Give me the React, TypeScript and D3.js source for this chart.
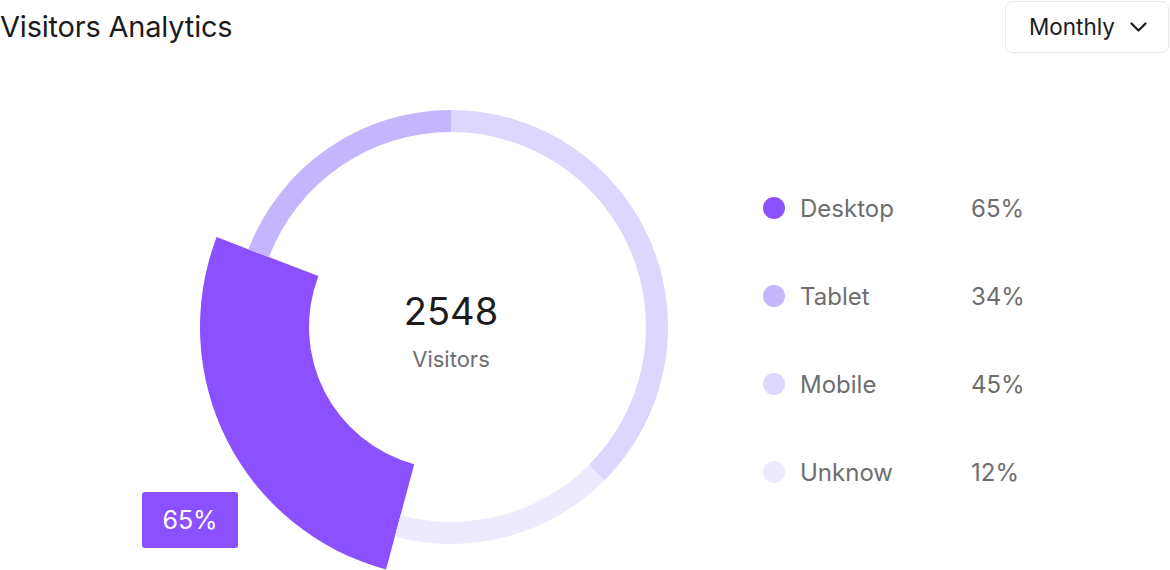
import * as d3 from 'd3'

// chart data
const categories = ['Desktop', 'Tablet', 'Mobile', 'Unknow']
const shareValues = [64, 46, 90, 40] // arc sizes as drawn
const legendPercents = ['65%', '34%', '45%', '12%']
const sliceColors = ['#8B50FF', '#C4B5FD', '#DDD6FE', '#EDE9FE']
const totalVisitors = 2548
const activeIndex = 0

const width = 1170
const height = 570
const cx = 451
const cy = 327
const font = 'Inter, "Noto Sans", sans-serif'

export default function App() {
  // Desktop + Tablet sit before the top, so start the pie to the left
  const before = d3.sum(shareValues.slice(0, 2)) / d3.sum(shareValues)
  const start = -before * Math.PI * 2

  const pie = d3.pie<number>()
    .sort(null)
    .startAngle(start)
    .endAngle(start + Math.PI * 2)
    .value(d => d)

  const slices = pie(shareValues)

  // thin ring for normal slices, thick one for the active slice
  const arc = d3.arc<d3.PieArcDatum<number>>()
  const ring = (d: d3.PieArcDatum<number>) =>
    d.index === activeIndex
      ? arc({ ...d, innerRadius: 142, outerRadius: 251 } as any)
      : arc({ ...d, innerRadius: 195, outerRadius: 217 } as any)

  const legendY = d3.scalePoint<string>()
    .domain(categories)
    .range([208, 472])

  return (
    <svg
      width={width}
      height={height}
      style={{ position: 'absolute', left: 0, top: 0, fontFamily: font }}
    >
      <rect width={width} height={height} fill="#fff" />

      {/* header */}
      <text x={0} y={37} fontSize={29} fill="#1c1c1c" letterSpacing={-0.2}>
        Visitors Analytics
      </text>
      <rect x={1005.5} y={1.5} width={163} height={51} rx={7} fill="#fff" stroke="#e6e7eb" />
      <text x={1029} y={35} fontSize={22.5} fill="#1c1c1c">Monthly</text>
      <polyline
        points="1131.5,23.5 1138.5,30.5 1145.5,23.5"
        fill="none"
        stroke="#1c1c1c"
        strokeWidth={2.2}
        strokeLinecap="round"
        strokeLinejoin="round"
      />

      {/* donut */}
      <g transform={`translate(${cx},${cy})`}>
        {slices.map(d => (
          <path key={categories[d.index]} d={ring(d) || ''} fill={sliceColors[d.index]} />
        ))}
        <text y={-2} textAnchor="middle" fontSize={38} fill="#1c1c1c">{totalVisitors}</text>
        <text y={40} textAnchor="middle" fontSize={22} fill="#6e6e6e">Visitors</text>
      </g>

      {/* tooltip of the active slice */}
      <g transform="translate(142,492)">
        <rect width={96} height={56} rx={3} fill={sliceColors[activeIndex]} />
        <text x={48} y={37} textAnchor="middle" fontSize={25} fill="#fff">
          {legendPercents[activeIndex]}
        </text>
      </g>

      {/* legend */}
      {categories.map((c, i) => (
        <g key={c} transform={`translate(0,${legendY(c)})`}>
          <circle cx={774} cy={0} r={11} fill={sliceColors[i]} />
          <text x={800} y={9} fontSize={24} fill="#6e6e6e">{c}</text>
          <text x={971} y={9} fontSize={24} fill="#6e6e6e">{legendPercents[i]}</text>
        </g>
      ))}
    </svg>
  )
}
